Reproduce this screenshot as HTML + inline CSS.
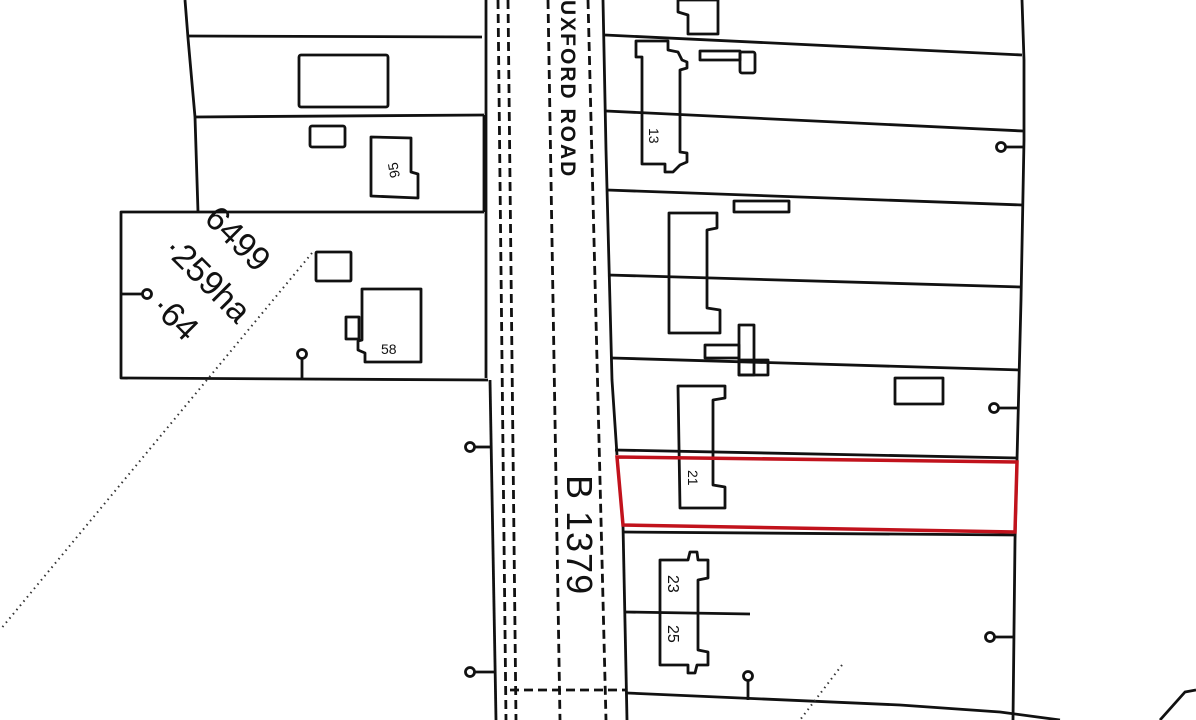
<!DOCTYPE html>
<html><head><meta charset="utf-8"><style>
html,body{margin:0;padding:0;background:#fff;}
svg{display:block;}
text{font-family:"Liberation Sans",sans-serif;fill:#111;}
</style></head><body>
<svg width="1196" height="720" viewBox="0 0 1196 720" xmlns="http://www.w3.org/2000/svg">
<g stroke="#111" stroke-width="2.8" fill="none" stroke-linejoin="round">
<polyline points="185,0 188,38 195,117 198,212"/>
<line x1="188" y1="36" x2="482" y2="37"/>
<line x1="194" y1="117" x2="484" y2="115"/>
<line x1="484" y1="115" x2="484" y2="212"/>
<polyline points="484,212 121,212 121,378 488,380"/>
<rect x="299" y="55" width="89" height="52" rx="2"/>
<rect x="310" y="126" width="35" height="21" rx="2"/>
<polygon points="371,137 411,138 411,172 418,174 418,198 371,196"/>
<rect x="316" y="252" width="35" height="29" rx="1"/>
<polygon points="362,289 421,289 421,362 365,362 365,353 358,350 358,341 362,340"/>
<rect x="346" y="317" width="13" height="22"/>
<line x1="486" y1="0" x2="486" y2="378"/>
<line x1="490" y1="380" x2="496" y2="720"/>
<polyline points="603,0 606,150 612,380 617,455"/>
<polyline points="623,525 627,720"/>
<line x1="605" y1="35" x2="1022" y2="55"/>
<line x1="606" y1="111" x2="1023" y2="131"/>
<line x1="607" y1="190" x2="1022" y2="205"/>
<line x1="608" y1="275" x2="1021" y2="287"/>
<line x1="612" y1="358" x2="1020" y2="370"/>
<line x1="615" y1="450" x2="1017" y2="458"/>
<line x1="623" y1="532" x2="1015" y2="535"/>
<line x1="625" y1="612" x2="750" y2="614"/>
<polyline points="627,693 900,705 1000,712 1060,720"/>
<polyline points="1022,0 1024,60 1024,140 1021,300 1018,420 1015,540 1013,720"/>
<polygon points="678,0 678,12 688,15 688,34 718,34 718,0"/>
<polygon points="636,41 636,57 642,57 642,164 665,164 665,172 673,172 680,165 687,162 687,153 680,152 680,70 687,68 687,62 682,60 678,52 668,50 668,41"/>
<rect x="700" y="51" width="40" height="9"/>
<rect x="740" y="52" width="15" height="21" rx="2"/>
<polygon points="669,213 717,213 717,228 707,230 707,308 720,310 720,333 669,333"/>
<rect x="734" y="201" width="55" height="11"/>
<rect x="705" y="345" width="34" height="13"/>
<rect x="739" y="325" width="15" height="50"/>
<rect x="739" y="360" width="29" height="15"/>
<rect x="895" y="378" width="48" height="26"/>
<polygon points="678,386 725,386 725,398 713,400 713,485 725,487 725,508 680,508"/>
<polygon points="660,560 688,560 690,552 697,552 698,560 708,560 708,578 698,580 698,650 708,652 708,665 697,665 695,673 688,673 688,665 660,665"/>
<line x1="121" y1="294" x2="142" y2="294"/><circle cx="147" cy="294" r="4.5" fill="#fff"/>
<line x1="302" y1="378" x2="302" y2="359"/><circle cx="302" cy="354" r="4.5" fill="#fff"/>
<line x1="490" y1="447" x2="475" y2="447"/><circle cx="470" cy="447" r="4.5" fill="#fff"/>
<line x1="495" y1="672" x2="475" y2="672"/><circle cx="470" cy="672" r="4.5" fill="#fff"/>
<line x1="748" y1="700" x2="748" y2="681"/><circle cx="748" cy="676" r="4.5" fill="#fff"/>
<line x1="1024" y1="147" x2="1006" y2="147"/><circle cx="1001" cy="147" r="4.5" fill="#fff"/>
<line x1="1019" y1="408" x2="999" y2="408"/><circle cx="994" cy="408" r="4.5" fill="#fff"/>
<line x1="1015" y1="637" x2="995" y2="637"/><circle cx="990" cy="637" r="4.5" fill="#fff"/>
<polyline points="1160,720 1185,692 1196,690"/>
</g>
<g stroke="#111" stroke-width="2.8" fill="none" stroke-dasharray="9,5">
<line x1="498" y1="0" x2="506" y2="720"/>
<line x1="508" y1="0" x2="516" y2="720"/>
<line x1="548" y1="0" x2="560" y2="720"/>
<line x1="588" y1="0" x2="606" y2="720"/>
<line x1="510" y1="690" x2="625" y2="690"/>
</g>
<g stroke="#333" stroke-width="2" fill="none" stroke-dasharray="1.5,4">
<line x1="312" y1="253" x2="0" y2="630"/>
<line x1="842" y1="665" x2="800" y2="720"/>
</g>
<polygon points="617,457 1017,462 1015,532 623,525" fill="none" stroke="#c1121c" stroke-width="3.5"/>
<text x="561" y="0" font-size="21" font-weight="bold" transform="rotate(90 561 0)" letter-spacing="2">UXFORD ROAD</text>
<text x="567" y="475" font-size="36" transform="rotate(90 567 475)" letter-spacing="1">B 1379</text>
<text x="203" y="220" font-size="34" transform="rotate(45 203 220)">6499</text>
<text x="162" y="250" font-size="34" transform="rotate(45 162 250)">·259ha</text>
<text x="150" y="308" font-size="34" transform="rotate(45 150 308)">·64</text>
<text x="649" y="128" font-size="14" transform="rotate(90 649 128)">13</text>
<text x="400" y="177" font-size="14" transform="rotate(-100 400 177)">95</text>
<text x="381" y="354" font-size="14">58</text>
<text x="688" y="470" font-size="14" transform="rotate(90 688 470)">21</text>
<text x="668" y="575" font-size="16" transform="rotate(90 668 575)">23</text>
<text x="668" y="625" font-size="16" transform="rotate(90 668 625)">25</text>
</svg>
</body></html>
